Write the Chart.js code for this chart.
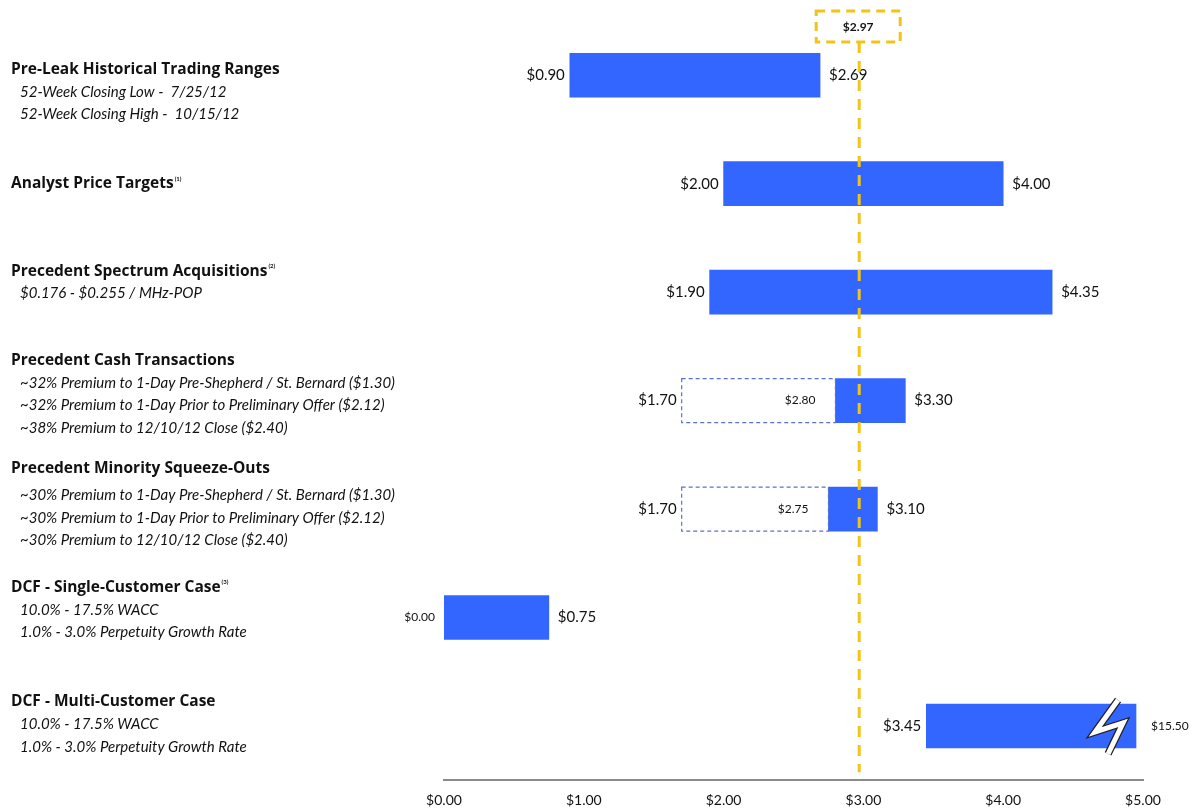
<!DOCTYPE html>
<html>
<head>
<meta charset="utf-8">
<script src="https://cdn.jsdelivr.net/npm/chart.js@4.4.1/dist/chart.umd.min.js"></script>
<style>
  html, body { margin: 0; padding: 0; background: #fff; }
  #wrap { width: 1196px; height: 809px; position: relative; }
</style>
</head>
<body>
<div id="wrap"><canvas id="footballField" width="1196" height="809"></canvas></div>
<script>
// --- data ---
const categories = [
  'Pre-Leak Historical Trading Ranges',
  'Analyst Price Targets',
  'Precedent Spectrum Acquisitions',
  'Precedent Cash Transactions',
  'Precedent Minority Squeeze-Outs',
  'DCF - Single-Customer Case',
  'DCF - Multi-Customer Case'
];
const footnotes = ['', '(1)', '(2)', '', '', '(3)', ''];
const subLines = [
  ['52-Week Closing Low -  7/25/12', '52-Week Closing High -  10/15/12'],
  [],
  ['$0.176 - $0.255 / MHz-POP'],
  ['~32% Premium to 1-Day Pre-Shepherd / St. Bernard ($1.30)', '~32% Premium to 1-Day Prior to Preliminary Offer ($2.12)', '~38% Premium to 12/10/12 Close ($2.40)'],
  ['~30% Premium to 1-Day Pre-Shepherd / St. Bernard ($1.30)', '~30% Premium to 1-Day Prior to Preliminary Offer ($2.12)', '~30% Premium to 12/10/12 Close ($2.40)'],
  ['10.0% - 17.5% WACC', '1.0% - 3.0% Perpetuity Growth Rate'],
  ['10.0% - 17.5% WACC', '1.0% - 3.0% Perpetuity Growth Rate']
];
const lowValues   = [0.90, 2.00, 1.90, 1.70, 1.70, 0.00, 3.45];
const splitValues = [null, null, null, 2.80, 2.75, null, null];
const highValues  = [2.69, 4.00, 4.35, 3.30, 3.10, 0.75, 15.50];
const currentPrice = 2.97;
const tickValues = [0, 1, 2, 3, 4, 5];
const axisMax = 5;
const breakCap = 4.95;   // where the off-scale bar gets cut
const breakAt = 4.75;    // where the break mark sits

const BLUE = '#3366ff';
const GOLD = '#f2c417';
const FONT = 'Lato, "Open Sans", sans-serif';
const TITLE_FONT = '"Open Sans", Lato, sans-serif';
// title offset from the row centre (px), text block layout only
const titleShift = [-6, 0, -21, -40, -40, -30, -24];

function money(v) { return '$' + v.toFixed(2); }

const solidBars = lowValues.map((lo, i) => {
  const start = splitValues[i] !== null ? splitValues[i] : lo;
  return [start, Math.min(highValues[i], breakCap)];
});
const openBars = lowValues.map((lo, i) => splitValues[i] !== null ? [lo, splitValues[i]] : null);

const footballPlugin = {
  id: 'football',
  afterDatasetsDraw(chart) {
    const ctx = chart.ctx;
    const x = chart.scales.x;
    const solid = chart.getDatasetMeta(0).data;
    const open = chart.getDatasetMeta(1).data;

    ctx.save();
    // dashed outline for the "premium" boxes
    open.forEach((el, i) => {
      if (splitValues[i] === null) return;
      const p = el.getProps(['x', 'base', 'y', 'height'], true);
      ctx.setLineDash([4, 3]);
      ctx.strokeStyle = '#5a72cc';
      ctx.lineWidth = 1.2;
      const l = Math.min(p.x, p.base), r = Math.max(p.x, p.base);
      ctx.strokeRect(l, p.y - p.height / 2, r - l, p.height);
      ctx.setLineDash([]);
      ctx.fillStyle = '#111';
      ctx.font = '12px ' + FONT;
      ctx.textAlign = 'right';
      ctx.textBaseline = 'middle';
      ctx.fillText(money(splitValues[i]), r - 20, p.y);
    });

    // end labels
    solid.forEach((el, i) => {
      const p = el.getProps(['x', 'base', 'y', 'height'], true);
      const left = x.getPixelForValue(lowValues[i]);
      const right = Math.max(p.x, p.base);
      ctx.fillStyle = '#111';
      ctx.textBaseline = 'middle';

      ctx.textAlign = 'right';
      ctx.font = (lowValues[i] === 0 ? '12px ' : '15px ') + FONT;
      ctx.fillText(money(lowValues[i]), left - (lowValues[i] === 0 ? 9 : 5), p.y);

      ctx.textAlign = 'left';
      const off = highValues[i] > axisMax;
      ctx.font = (off ? '12px ' : '15px ') + FONT;
      ctx.fillText(money(highValues[i]), right + (off ? 15 : 9), p.y);

      // break mark on the off-scale bar
      if (off) {
        const cx = x.getPixelForValue(breakAt);
        const cy = p.y;
        const pts = [[10, -26], [-13, 6], [15, -3], [0, 28]];
        ctx.beginPath();
        pts.forEach((q, k) => k ? ctx.lineTo(cx + q[0], cy + q[1]) : ctx.moveTo(cx + q[0], cy + q[1]));
        ctx.lineJoin = 'miter';
        ctx.strokeStyle = '#222';
        ctx.lineWidth = 7.5;
        ctx.stroke();
        ctx.strokeStyle = '#fff';
        ctx.lineWidth = 5;
        ctx.stroke();
      }
    });

    // row labels on the left
    const y = chart.scales.y;
    categories.forEach((name, i) => {
      const cy = y.getPixelForValue(i) + titleShift[i];
      ctx.textAlign = 'left';
      ctx.textBaseline = 'middle';
      ctx.fillStyle = '#111';
      ctx.font = 'bold 15.5px ' + TITLE_FONT;
      ctx.fillText(name, 11, cy);
      if (footnotes[i]) {
        const w = ctx.measureText(name).width;
        ctx.font = 'bold 6px ' + FONT;
        ctx.fillText(footnotes[i], 11 + w + 1, cy - 5);
      }
      ctx.font = 'italic 15px ' + FONT;
      subLines[i].forEach((line, k) => {
        ctx.fillText(line, 20, cy + 22.5 * (k + 1) + (i === 4 ? 4 : 0));
      });
    });

    // current price marker
    const px = x.getPixelForValue(currentPrice);
    ctx.strokeStyle = GOLD;
    ctx.lineWidth = 3;
    ctx.setLineDash([11, 8]);
    ctx.beginPath();
    ctx.moveTo(px, 42);
    ctx.lineTo(px, chart.chartArea.bottom - 8);
    ctx.stroke();
    ctx.setLineDash([9, 6]);
    ctx.strokeRect(px - 43, 11, 84, 31);
    ctx.setLineDash([]);
    ctx.fillStyle = '#111';
    ctx.font = 'bold 12px ' + FONT;
    ctx.textAlign = 'center';
    ctx.fillText(money(currentPrice), px - 1, 27);
    ctx.restore();
  }
};

new Chart(document.getElementById('footballField').getContext('2d'), {
  type: 'bar',
  data: {
    labels: categories,
    datasets: [
      {
        label: 'Range',
        data: solidBars,
        backgroundColor: BLUE,
        borderWidth: 0,
        barThickness: 44,
        grouped: false
      },
      {
        label: 'Premium',
        data: openBars,
        backgroundColor: '#ffffff',
        borderWidth: 0,
        barThickness: 44,
        grouped: false
      }
    ]
  },
  options: {
    indexAxis: 'y',
    responsive: false,
    animation: false,
    layout: { padding: { left: 444, right: 53, top: 21, bottom: -12 } },
    plugins: {
      legend: { display: false },
      tooltip: { enabled: false }
    },
    scales: {
      y: { type: 'category', display: false },
      x: {
        type: 'linear',
        min: 0,
        max: axisMax,
        afterBuildTicks: axis => { axis.ticks = tickValues.map(v => ({ value: v })); },
        grid: { display: false, drawTicks: false },
        border: { display: true, color: '#8a8a8a', width: 2 },
        ticks: {
          padding: 12,
          color: '#111',
          font: { family: FONT, size: 14 },
          callback: value => money(value)
        }
      }
    }
  },
  plugins: [footballPlugin]
});
</script>
</body>
</html>
